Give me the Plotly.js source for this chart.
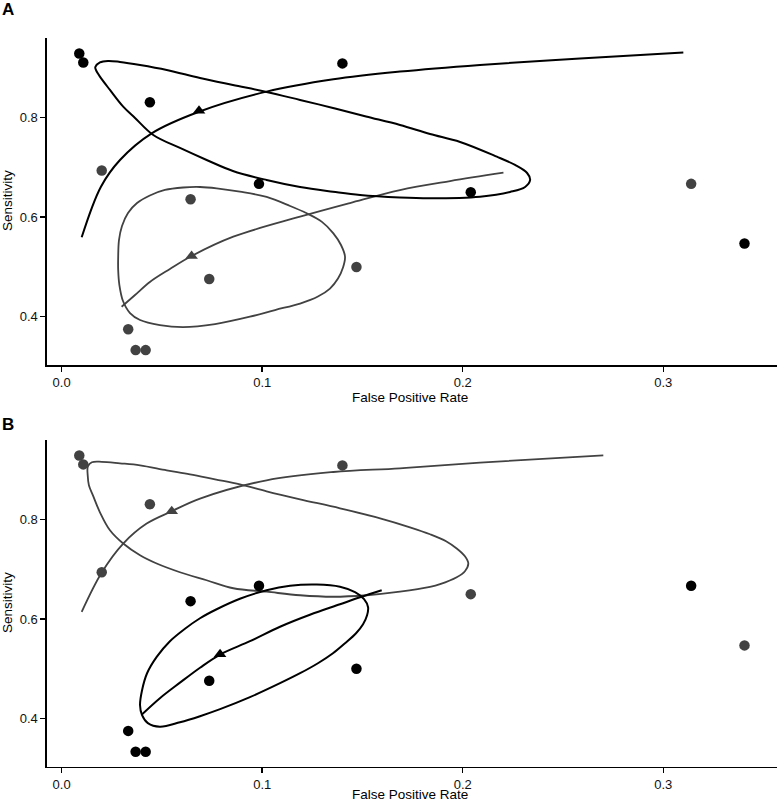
<!DOCTYPE html>
<html><head><meta charset="utf-8">
<script src="https://cdn.plot.ly/plotly-3.0.1.min.js"></script>
<style>html,body{margin:0;padding:0;background:#fff}</style>
</head><body><div id="chart" style="width:778px;height:804px"></div>
<script>
// ---------- tick labels ----------
const xTickVals = [0, 0.1, 0.2, 0.3];
const xTickText = ["0.0", "0.1", "0.2", "0.3"];
const yTickVals = [0.4, 0.6, 0.8];
const yTickText = ["0.4", "0.6", "0.8"];

// ---------- study points (FPR, sensitivity) ----------
const aBlackFpr  = [0.0088, 0.0108, 0.0440, 0.0984, 0.1400, 0.2040, 0.3405];
const aBlackSens = [0.929, 0.911, 0.831, 0.667, 0.909, 0.650, 0.547];
const aGrayFpr   = [0.0200, 0.0643, 0.0736, 0.0332, 0.0369, 0.0419, 0.1470, 0.3139];
const aGraySens  = [0.694, 0.636, 0.476, 0.375, 0.333, 0.333, 0.500, 0.667];

const bBlackFpr  = [0.0643, 0.0736, 0.0332, 0.0369, 0.0419, 0.1470, 0.3139, 0.0984];
const bBlackSens = [0.636, 0.476, 0.375, 0.333, 0.333, 0.500, 0.667, 0.667];
const bGrayFpr   = [0.0088, 0.0108, 0.0440, 0.1400, 0.2040, 0.3405, 0.0200];
const bGraySens  = [0.929, 0.911, 0.831, 0.909, 0.650, 0.547, 0.694];

// ---------- summary points ----------
const aBlackSumFpr = [0.0685], aBlackSumSens = [0.814];
const aGraySumFpr  = [0.0648], aGraySumSens  = [0.522];
const bGraySumFpr  = [0.0549], bGraySumSens  = [0.817];
const bBlackSumFpr = [0.0790], bBlackSumSens = [0.529];

// ---------- SROC curves ----------
const aBlackSrocFpr  = [0.0100,0.0196,0.0291,0.0449,0.0685,0.1022,0.1355,0.1687,0.2086,0.2585,0.3100];
const aBlackSrocSens = [0.5596,0.6613,0.7150,0.7686,0.8120,0.8523,0.8770,0.8925,0.9060,0.9190,0.9307];
const aGraySrocFpr   = [0.0299,0.0366,0.0440,0.0540,0.0648,0.0856,0.1189,0.1438,0.1687,0.1937,0.2203];
const aGraySrocSens  = [0.4201,0.4436,0.4698,0.4959,0.5220,0.5608,0.6010,0.6285,0.6546,0.6727,0.6894];
const bGraySrocFpr   = [0.0100,0.0200,0.0307,0.0424,0.0549,0.0690,0.1022,0.1355,0.1687,0.2086,0.2701];
const bGraySrocSens  = [0.6143,0.6935,0.7518,0.7920,0.8167,0.8422,0.8790,0.8957,0.9031,0.9146,0.9293];
const bBlackSrocFpr  = [0.0399,0.0490,0.0590,0.0690,0.0790,0.0939,0.1089,0.1238,0.1388,0.1488,0.1596];
const bBlackSrocSens = [0.4076,0.4408,0.4720,0.5021,0.5286,0.5554,0.5845,0.6086,0.6297,0.6438,0.6578];

// ---------- confidence regions ----------
const aBlackEllFpr  = [0.0854,0.1022,0.1189,0.1353,0.1518,0.1687,0.1837,0.1987,0.2170,0.2261,0.2321,0.2336,0.2311,0.2236,0.2086,0.1837,0.1687,0.1488,0.1353,0.1189,0.1022,0.0854,0.0723,0.0590,0.0457,0.0366,0.0307,0.0241,0.0191,0.0171,0.0168,0.0191,0.0231,0.0291,0.0391,0.0524,0.0690,0.0854];
const aBlackEllSens = [0.8657,0.8517,0.8356,0.8195,0.8024,0.7853,0.7672,0.7512,0.7216,0.7049,0.6888,0.6748,0.6607,0.6507,0.6412,0.6380,0.6396,0.6446,0.6513,0.6607,0.6748,0.6929,0.7150,0.7391,0.7652,0.7994,0.8221,0.8557,0.8824,0.8959,0.9019,0.9110,0.9140,0.9120,0.9059,0.8959,0.8798,0.8657];
const aGrayEllFpr   = [0.0773,0.0889,0.1022,0.1139,0.1222,0.1298,0.1355,0.1393,0.1413,0.1403,0.1378,0.1338,0.1278,0.1189,0.1064,0.0939,0.0765,0.0606,0.0490,0.0391,0.0341,0.0306,0.0288,0.0282,0.0282,0.0286,0.0301,0.0331,0.0376,0.0440,0.0515,0.0606,0.0690,0.0773];
const aGrayEllSens  = [0.6581,0.6513,0.6406,0.6225,0.6078,0.5906,0.5676,0.5441,0.5206,0.4988,0.4767,0.4566,0.4406,0.4265,0.4135,0.4000,0.3853,0.3793,0.3833,0.3934,0.4074,0.4316,0.4637,0.4938,0.5206,0.5542,0.5823,0.6085,0.6284,0.6436,0.6547,0.6597,0.6607,0.6581];
const bGrayEllFpr   = [0.0889,0.1022,0.1189,0.1388,0.1588,0.1737,0.1837,0.1917,0.1970,0.2011,0.2028,0.2011,0.1970,0.1887,0.1837,0.1687,0.1521,0.1353,0.1189,0.1022,0.0856,0.0723,0.0590,0.0474,0.0391,0.0307,0.0241,0.0191,0.0156,0.0136,0.0130,0.0131,0.0151,0.0200,0.0291,0.0391,0.0524,0.0640,0.0765,0.0889];
const bGrayEllSens  = [0.8710,0.8569,0.8408,0.8227,0.8026,0.7845,0.7705,0.7564,0.7417,0.7262,0.7116,0.6961,0.6840,0.6700,0.6645,0.6549,0.6478,0.6448,0.6478,0.6549,0.6619,0.6780,0.6941,0.7116,0.7282,0.7518,0.7785,0.8147,0.8488,0.8689,0.8890,0.9071,0.9152,0.9162,0.9132,0.9091,0.8991,0.8911,0.8810,0.8710];
const bBlackEllFpr  = [0.0889,0.1022,0.1139,0.1272,0.1388,0.1463,0.1508,0.1528,0.1523,0.1503,0.1468,0.1413,0.1353,0.1278,0.1189,0.1089,0.0939,0.0790,0.0690,0.0590,0.0490,0.0430,0.0401,0.0391,0.0401,0.0426,0.0474,0.0540,0.0615,0.0690,0.0773,0.0889];
const bBlackEllSens = [0.6408,0.6579,0.6669,0.6693,0.6649,0.6539,0.6398,0.6237,0.6076,0.5895,0.5714,0.5513,0.5312,0.5111,0.4910,0.4709,0.4428,0.4187,0.4046,0.3925,0.3835,0.3906,0.4067,0.4267,0.4567,0.4909,0.5238,0.5554,0.5805,0.6016,0.6197,0.6408];

// ---------- styling ----------
const BLACK = "#000000";
const GRAY = "#424242";
const FONT = "Liberation Sans, Arial, Helvetica, sans-serif";

function line(x, y, color, w, xa, ya) {
  return {x: x, y: y, mode: "lines", type: "scatter", xaxis: xa, yaxis: ya,
    line: {color: color, width: w, shape: "spline", smoothing: 1}, hoverinfo: "skip"};
}
function pts(x, y, color, xa, ya) {
  return {x: x, y: y, mode: "markers", type: "scatter", xaxis: xa, yaxis: ya,
    marker: {color: color, size: 10.5, symbol: "circle", line: {width: 0}}, cliponaxis: false};
}
function tri(x, y, color, xa, ya) {
  return {x: x, y: y, mode: "markers", type: "scatter", xaxis: xa, yaxis: ya,
    marker: {color: color, size: 11, symbol: "triangle-up", line: {width: 0}}};
}

const data = [
  // Panel A
  line(aGraySrocFpr, aGraySrocSens, GRAY, 1.8, "x", "y"),
  line(aGrayEllFpr, aGrayEllSens, GRAY, 1.8, "x", "y"),
  line(aBlackSrocFpr, aBlackSrocSens, BLACK, 2, "x", "y"),
  line(aBlackEllFpr, aBlackEllSens, BLACK, 2, "x", "y"),
  pts(aGrayFpr, aGraySens, GRAY, "x", "y"),
  pts(aBlackFpr, aBlackSens, BLACK, "x", "y"),
  tri(aGraySumFpr, aGraySumSens, GRAY, "x", "y"),
  tri(aBlackSumFpr, aBlackSumSens, BLACK, "x", "y"),
  // Panel B
  line(bGraySrocFpr, bGraySrocSens, GRAY, 1.8, "x2", "y2"),
  line(bGrayEllFpr, bGrayEllSens, GRAY, 1.8, "x2", "y2"),
  line(bBlackSrocFpr, bBlackSrocSens, BLACK, 2, "x2", "y2"),
  line(bBlackEllFpr, bBlackEllSens, BLACK, 2, "x2", "y2"),
  pts(bGrayFpr, bGraySens, GRAY, "x2", "y2"),
  pts(bBlackFpr, bBlackSens, BLACK, "x2", "y2"),
  tri(bGraySumFpr, bGraySumSens, GRAY, "x2", "y2"),
  tri(bBlackSumFpr, bBlackSumSens, BLACK, "x2", "y2")
];

function xax(anchor) {
  return {domain: [0.0604, 0.9987], range: [-0.0073, 0.3567], anchor: anchor,
    tickvals: xTickVals, ticktext: xTickText, showgrid: false, zeroline: false,
    showline: true, linecolor: BLACK, linewidth: 1.6, ticks: "outside", ticklen: 5,
    tickwidth: 1.4, tickcolor: BLACK, tickfont: {family: FONT, size: 13, color: "#111"}};
}
function yax(anchor, dom) {
  return {domain: dom, range: [0.303, 0.960], anchor: anchor,
    tickvals: yTickVals, ticktext: yTickText, showgrid: false, zeroline: false,
    showline: true, linecolor: BLACK, linewidth: 1.6, ticks: "outside", ticklen: 5,
    tickwidth: 1.4, tickcolor: BLACK, tickfont: {family: FONT, size: 13, color: "#111"}};
}

const annFont = {family: FONT, size: 13.5, color: "#000"};
const layout = {
  width: 778, height: 804,
  margin: {l: 0, r: 0, t: 0, b: 0},
  paper_bgcolor: "#fff", plot_bgcolor: "#fff",
  showlegend: false,
  font: {family: FONT},
  xaxis: xax("y"),
  yaxis: yax("x", [0.546, 0.9527]),
  xaxis2: xax("y2"),
  yaxis2: yax("x2", [0.0464, 0.4527]),
  annotations: [
    {text: "<b>A</b>", xref: "paper", yref: "paper", x: 0.0103, y: 0.9886, xanchor: "center", yanchor: "middle", showarrow: false, font: {family: FONT, size: 17, color: "#000"}},
    {text: "<b>B</b>", xref: "paper", yref: "paper", x: 0.0103, y: 0.4714, xanchor: "center", yanchor: "middle", showarrow: false, font: {family: FONT, size: 17, color: "#000"}},
    {text: "False Positive Rate", xref: "paper", yref: "paper", x: 410/778, y: 1 - 397/804, xanchor: "center", yanchor: "middle", showarrow: false, font: annFont},
    {text: "False Positive Rate", xref: "paper", yref: "paper", x: 410/778, y: 0, xanchor: "center", yanchor: "bottom", showarrow: false, font: annFont},
    {text: "Sensitivity", xref: "paper", yref: "paper", x: 7/778, y: 1 - 201/804, xanchor: "center", yanchor: "middle", textangle: -90, showarrow: false, font: annFont},
    {text: "Sensitivity", xref: "paper", yref: "paper", x: 7/778, y: 1 - 603/804, xanchor: "center", yanchor: "middle", textangle: -90, showarrow: false, font: annFont}
  ]
};

Plotly.newPlot("chart", data, layout, {staticPlot: true, displayModeBar: false});
</script></body></html>
